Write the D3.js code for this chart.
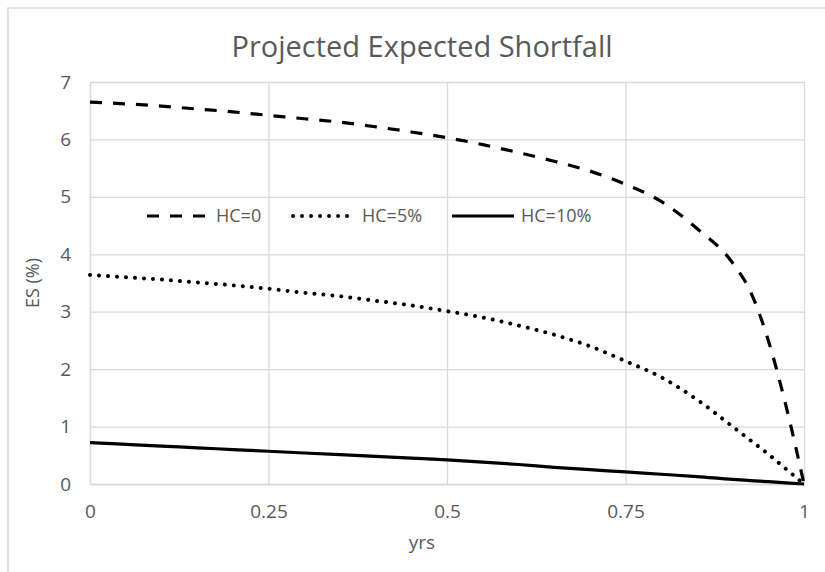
<html>
<head>
<script src='https://d3js.org/d3.v7.min.js'></script>
<style>
body { margin:0; background:#fff; }
text { font-family: 'Open Sans', sans-serif; fill:#595959; }
</style>
</head>
<body onload="init()">
<svg width=825 height=572></svg>
<script>
// time horizon (yrs) and ES (%) for each haircut
var yrs    = [0, 0.05, 0.1, 0.15, 0.2, 0.25, 0.3, 0.35, 0.4, 0.45, 0.5, 0.55, 0.6, 0.65, 0.7, 0.75, 0.8, 0.85, 0.9, 0.925, 0.95, 0.975, 1];
var es_hc0 = [6.65, 6.62, 6.58, 6.53, 6.48, 6.42, 6.36, 6.30, 6.22, 6.13, 6.03, 5.91, 5.77, 5.62, 5.45, 5.22, 4.92, 4.45, 3.85, 3.35, 2.5, 1.35, 0];
var es_hc5 = [3.64, 3.60, 3.56, 3.51, 3.46, 3.40, 3.33, 3.27, 3.19, 3.11, 3.01, 2.90, 2.76, 2.60, 2.40, 2.14, 1.86, 1.47, 1.00, 0.76, 0.52, 0.26, 0];
var es_hc10 = [0.72, 0.69, 0.66, 0.63, 0.60, 0.57, 0.54, 0.51, 0.48, 0.45, 0.42, 0.38, 0.34, 0.29, 0.25, 0.21, 0.17, 0.13, 0.08, 0.06, 0.04, 0.02, 0];
var series_names = ["HC=0", "HC=5%", "HC=10%"];
var x_ticks = [0, 0.25, 0.5, 0.75, 1];
var y_ticks = [0, 1, 2, 3, 4, 5, 6, 7];

function init() {
	var width = 825, height = 572;
	var margin = ({top: 82, right: 21, bottom: 88, left: 90});
	var innerwidth = width - margin.left - margin.right;
	var innerheight = height - margin.top - margin.bottom;
	var mysvg = d3.select("svg");

	// chart frame (runs off the right and bottom edges)
	mysvg.append("rect")
		.attr("x", 8).attr("y", 8)
		.attr("width", 900).attr("height", 700)
		.attr("fill", "#fff")
		.attr("stroke", "#d9d9d9")
		.attr("stroke-width", 1.5);

	var x = d3.scaleLinear().domain([0, 1]).range([0, innerwidth]);
	var y = d3.scaleLinear().domain([0, 7]).range([innerheight, 0]);

	var plot = mysvg.append("g")
		.attr("transform", "translate(" + margin.left + "," + margin.top + ")");

	// gridlines
	plot.append("g")
		.call(d3.axisLeft(y).tickValues(y_ticks).tickSize(-innerwidth).tickFormat(""))
		.call(g => g.select(".domain").remove())
		.selectAll("line").attr("stroke", "#d9d9d9").attr("stroke-width", 1.3);
	plot.append("g")
		.attr("transform", "translate(0," + innerheight + ")")
		.call(d3.axisBottom(x).tickValues(x_ticks).tickSize(-innerheight).tickFormat(""))
		.call(g => g.select(".domain").remove())
		.selectAll("line").attr("stroke", "#d9d9d9").attr("stroke-width", 1.3);

	// tick labels
	var xAxis = plot.append("g")
		.attr("transform", "translate(0," + innerheight + ")")
		.call(d3.axisBottom(x).tickValues(x_ticks).tickSize(0).tickPadding(21).tickFormat(d3.format("")));
	xAxis.select(".domain").attr("stroke", "#d9d9d9").attr("stroke-width", 1.3);
	xAxis.selectAll("text").style("font-size", "19px").attr("fill", "#595959");

	var yAxis = plot.append("g")
		.call(d3.axisLeft(y).tickValues(y_ticks).tickSize(0).tickPadding(19).tickFormat(d3.format("d")));
	yAxis.select(".domain").attr("stroke", "#d9d9d9").attr("stroke-width", 1.3);
	yAxis.selectAll("text").style("font-size", "19px").attr("fill", "#595959");

	// lines
	var line = d3.line()
		.x((d, i) => x(yrs[i]))
		.y(d => y(d))
		.curve(d3.curveMonotoneX);
	var styles = [
		{dash: "12,11", cap: "butt", w: 3.2},
		{dash: "0.01,9", cap: "round", w: 4},
		{dash: null, cap: "butt", w: 3.2}
	];
	[es_hc0, es_hc5, es_hc10].forEach(function(s, i) {
		plot.append("path")
			.attr("d", line(s))
			.attr("fill", "none")
			.attr("stroke", "#000")
			.attr("stroke-width", styles[i].w)
			.attr("stroke-linecap", styles[i].cap)
			.attr("stroke-linejoin", "miter")
			.attr("stroke-dasharray", styles[i].dash);
	});

	// legend
	var legend_x = [147, 293, 452];
	var legend = mysvg.append("g").attr("transform", "translate(0,216)");
	series_names.forEach(function(name, i) {
		legend.append("line")
			.attr("x1", legend_x[i]).attr("x2", legend_x[i] + 62)
			.attr("y1", 0).attr("y2", 0)
			.attr("stroke", "#000")
			.attr("stroke-width", styles[i].w)
			.attr("stroke-linecap", styles[i].cap)
			.attr("stroke-dasharray", styles[i].dash);
		legend.append("text")
			.attr("x", legend_x[i] + 69)
			.attr("dy", "0.35em")
			.style("font-size", "18px")
			.text(name);
	});

	// title and axis titles
	mysvg.append("text")
		.attr("x", 422).attr("y", 57)
		.attr("text-anchor", "middle")
		.style("font-size", "29px")
		.text("Projected Expected Shortfall");
	mysvg.append("text")
		.attr("x", 422).attr("y", 549)
		.attr("text-anchor", "middle")
		.style("font-size", "19px")
		.text("yrs");
	mysvg.append("text")
		.attr("transform", "translate(39," + (margin.top + innerheight / 2) + ") rotate(-90)")
		.attr("text-anchor", "middle")
		.style("font-size", "18px")
		.text("ES (%)");
}
</script>
</body>
</html>
